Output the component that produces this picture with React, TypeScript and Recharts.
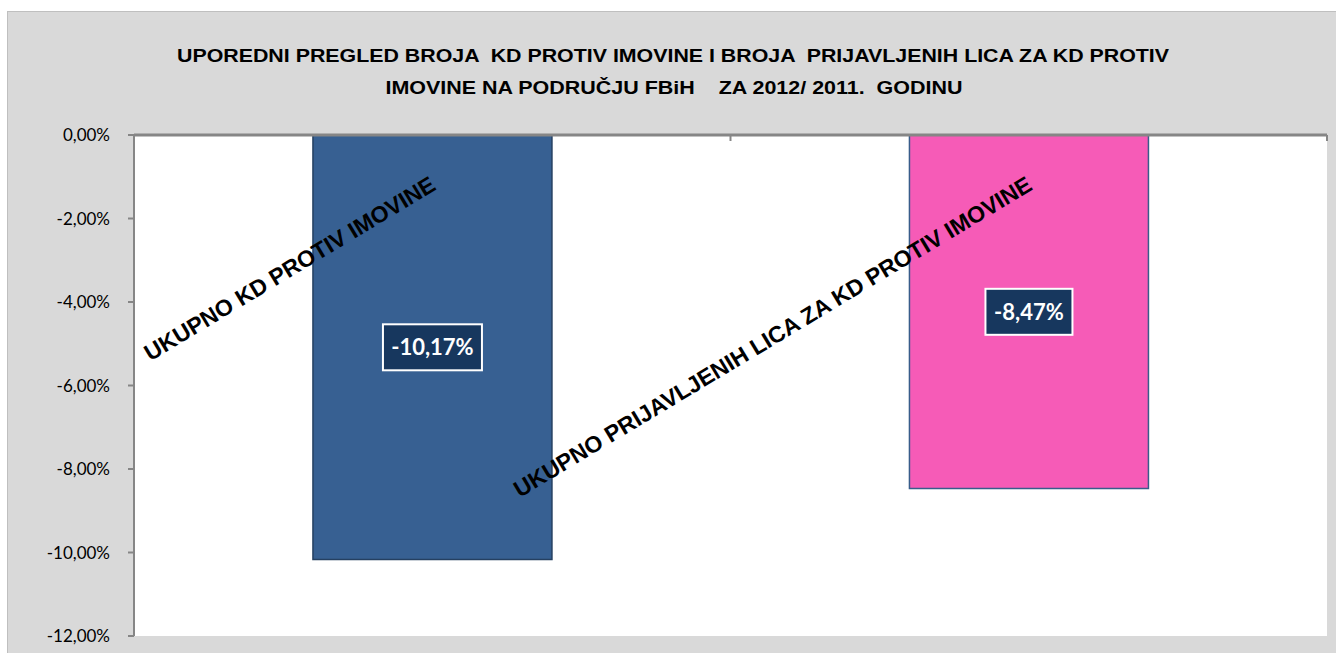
import { BarChart, Bar, XAxis, YAxis, CartesianGrid, Cell, LabelList } from "recharts";

const categories = ["UKUPNO KD PROTIV IMOVINE", "UKUPNO PRIJAVLJENIH LICA ZA KD PROTIV IMOVINE"];
const changes = [-10.17, -8.47];
const barColors = ["#376092", "#f65bb7"];
const barBorders = ["#254061", "#385d8a"];
const yTicks = [0, -2, -4, -6, -8, -10, -12];
const titleLines = [
  "UPOREDNI PREGLED BROJA  KD PROTIV IMOVINE I BROJA  PRIJAVLJENIH LICA ZA KD PROTIV",
  "IMOVINE NA PODRUČJU FBiH    ZA 2012/ 2011.  GODINU",
];

const data = categories.map((name, i) => ({ name, value: changes[i] }));

const fmt = (v: number) => `${v.toFixed(2).replace(".", ",").replace("-0,00", "0,00")}%`;

const CategoryTick = (props: any) => {
  const { x, y, payload } = props;
  const half = payload?.offset ?? 0;
  return (
    <g>
      <line x1={x + half} y1={y} x2={x + half} y2={y + 6} stroke="#868686" strokeWidth={2} />
      <text
        x={x + 5}
        y={y + 54}
        textAnchor="end"
        transform={`rotate(-31 ${x + 5} ${y + 54})`}
        fontFamily="'Liberation Sans', Arial, sans-serif"
        fontWeight="bold"
        fontSize={23}
        fill="#000"
      >
        {payload.value}
      </text>
    </g>
  );
};

const ValueBox = (props: any) => {
  const { x, y, width, height, value } = props;
  const cx = x + width / 2;
  const cy = y + height / 2;
  const label = fmt(value);
  const w = label.length * 12 + 15;
  const h = 46;
  return (
    <g>
      <rect x={cx - w / 2} y={cy - h / 2} width={w} height={h} fill="#17375e" stroke="#fff" strokeWidth={2} />
      <text
        x={cx}
        y={cy + 8}
        textAnchor="middle"
        fontFamily="Lato, 'Open Sans', sans-serif"
        fontWeight="bold"
        fontSize={22}
        fill="#fff"
      >
        {label}
      </text>
    </g>
  );
};

export default function App() {
  return (
    <div style={{ position: "absolute", left: 0, top: 0, width: 1336, height: 653, overflow: "hidden", background: "#fff" }}>
      <div
        style={{
          position: "absolute",
          left: 7,
          top: 11,
          width: 1340,
          height: 660,
          background: "#d9d9d9",
          border: "1px solid #bfbfbf",
        }}
      />
      <svg width={1336} height={110} style={{ position: "absolute", left: 0, top: 0 }}>
        <text
          x={673}
          y={62}
          textAnchor="middle"
          textLength={992}
          lengthAdjust="spacingAndGlyphs"
          fontFamily="'Liberation Sans', Arial, sans-serif"
          fontWeight="bold"
          fontSize={19}
          style={{ whiteSpace: "pre" }}
        >
          {titleLines[0]}
        </text>
        <text
          x={674}
          y={94}
          textAnchor="middle"
          textLength={577}
          lengthAdjust="spacingAndGlyphs"
          fontFamily="'Liberation Sans', Arial, sans-serif"
          fontWeight="bold"
          fontSize={19}
          style={{ whiteSpace: "pre" }}
        >
          {titleLines[1]}
        </text>
      </svg>
      <div style={{ position: "absolute", left: 0, top: 0 }}>
        <BarChart
          width={1336}
          height={653}
          data={data}
          margin={{ top: 105, right: 9, bottom: 17, left: 0 }}
          barCategoryGap="30%"
        >
          <CartesianGrid fill="#ffffff" horizontal={false} vertical={false} />
          <YAxis
            width={134}
            domain={[-12, 0]}
            ticks={yTicks}
            tickFormatter={fmt}
            axisLine={{ stroke: "#868686", strokeWidth: 2 }}
            tickLine={{ stroke: "#868686", strokeWidth: 2 }}
            tickSize={6}
            tickMargin={18}
            tick={{ fill: "#000", fontFamily: "Lato, 'Open Sans', sans-serif", fontSize: 17 }}
          />
          <Bar dataKey="value" isAnimationActive={false}>
            {data.map((d, i) => (
              <Cell key={d.name} fill={barColors[i]} stroke={barBorders[i]} strokeWidth={1.5} />
            ))}
            <LabelList dataKey="value" content={<ValueBox />} />
          </Bar>
          <XAxis
            dataKey="name"
            orientation="top"
            height={30}
            axisLine={{ stroke: "#868686", strokeWidth: 3 }}
            tickLine={false}
            tickSize={0}
            tickMargin={0}
            interval={0}
            tick={<CategoryTick />}
          />
        </BarChart>
      </div>
    </div>
  );
}
